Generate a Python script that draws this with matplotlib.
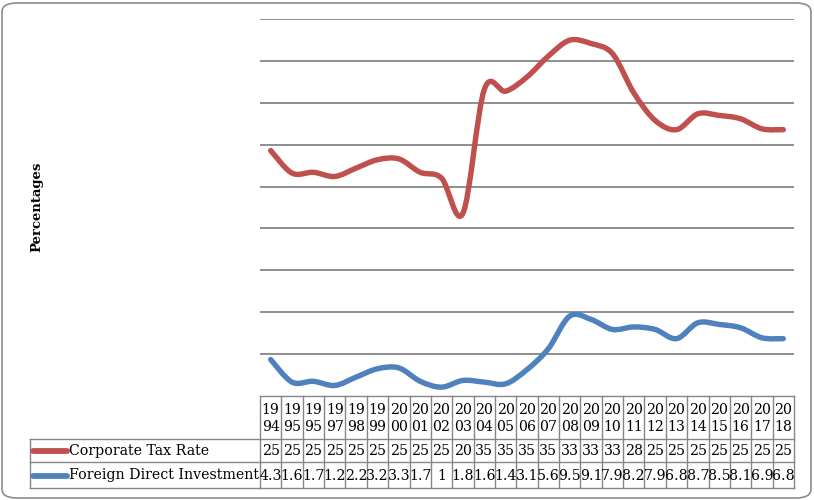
import matplotlib
matplotlib.use("Agg")
import matplotlib.pyplot as plt
import numpy as np
from matplotlib.path import Path
from matplotlib.patches import PathPatch, FancyBboxPatch
from matplotlib.transforms import blended_transform_factory

# year labels as printed in the source table (1996 column reads "1995")
year_labels = ["1994", "1995", "1995", "1997", "1998", "1999", "2000", "2001",
               "2002", "2003", "2004", "2005", "2006", "2007", "2008", "2009",
               "2010", "2011", "2012", "2013", "2014", "2015", "2016", "2017",
               "2018"]
tax_rate = [25, 25, 25, 25, 25, 25, 25, 25, 25, 20, 35, 35, 35, 35,
            33, 33, 33, 28, 25, 25, 25, 25, 25, 25, 25]
fdi = [4.3, 1.6, 1.7, 1.2, 2.2, 3.2, 3.3, 1.7, 1, 1.8, 1.6, 1.4, 3.1,
       5.6, 9.5, 9.1, 7.9, 8.2, 7.9, 6.8, 8.7, 8.5, 8.1, 6.9, 6.8]
series_names = ["Corporate Tax Rate", "Foreign Direct Investment"]
colors = ["#C0504D", "#4F81BD"]
y_ticks = [5, 10, 15, 20, 25, 30, 35, 40, 45]

W, H = 814, 500
GRID = "#868686"
SERIF = ["DejaVu Serif"]
FS = 10.2


def smooth_path(x, y):
    # Excel-style smoothed line: Catmull-Rom converted to cubic Bezier
    x = np.asarray(x, float)
    y = np.asarray(y, float)
    px = np.concatenate([[x[0]], x, [x[-1]]])
    py = np.concatenate([[y[0]], y, [y[-1]]])
    verts = [(x[0], y[0])]
    codes = [Path.MOVETO]
    for i in range(1, len(x)):
        p0 = np.array([px[i - 1], py[i - 1]])
        p1 = np.array([px[i], py[i]])
        p2 = np.array([px[i + 1], py[i + 1]])
        p3 = np.array([px[i + 2], py[i + 2]])
        c1 = p1 + (p2 - p0) / 6
        c2 = p2 - (p3 - p1) / 6
        verts += [tuple(c1), tuple(c2), tuple(p2)]
        codes += [Path.CURVE4] * 3
    return Path(verts, codes)


fig = plt.figure(figsize=(W / 100, H / 100), dpi=100)

# outer rounded frame
fig.patches.append(FancyBboxPatch((2 / W, 2 / H), 809 / W, 495 / H,
                                  boxstyle="round,pad=0,rounding_size=0.018",
                                  transform=fig.transFigure, fc="none",
                                  ec="#8c8c8c", lw=1.2, zorder=0))

x0, x1 = 260, 794
y_top, y_zero = 19.3, 395.5
ax = fig.add_axes([x0 / W, 1 - y_zero / H, (x1 - x0) / W, (y_zero - y_top) / H])
ax.set_xlim(-0.5, len(year_labels) - 0.5)
ax.set_ylim(0, 45)
ax.patch.set_alpha(0)
for s in ax.spines.values():
    s.set_visible(False)
ax.set_xticks([])
ax.set_yticks([])
for t in y_ticks:
    ax.axhline(t, color=GRID, lw=1.3, zorder=1)

# Excel stacked line: the red line sits on top of the blue one
xs = np.arange(len(year_labels))
stacked = [np.array(tax_rate, float) + np.array(fdi, float), np.array(fdi, float)]
for vals, c in zip(stacked, colors):
    ax.add_patch(PathPatch(smooth_path(xs, vals), fc="none", ec=c, lw=3.9,
                           capstyle="round", joinstyle="round", zorder=3))

fig.text(37 / W, 1 - 207 / H, "Percentages", rotation=90, ha="center",
         va="center", fontsize=9.5, fontweight="bold", family=SERIF)

# data table under the plot, sharing the x scale
r0, r1, r2, r3 = 396, 439, 462, 488
tab = fig.add_axes([x0 / W, 1 - r3 / H, (x1 - x0) / W, (r3 - r0) / H], sharex=ax)
tab.set_ylim(r3 - r0, 0)
tab.axis("off")
tab.patch.set_alpha(0)
ry = [0, r1 - r0, r2 - r0, r3 - r0]
lw_t = 1.0
n = len(year_labels)
for i in range(n + 1):
    tab.plot([i - 0.5, i - 0.5], [ry[0], ry[3]], color=GRID, lw=lw_t, clip_on=False)
for yy in ry:
    tab.plot([-0.5, n - 0.5], [yy, yy], color=GRID, lw=lw_t, clip_on=False)

bt = blended_transform_factory(tab.transAxes, tab.transData)
lx = (30 - x0) / (x1 - x0)
for yy in ry[1:]:
    tab.plot([lx, 0], [yy, yy], color=GRID, lw=lw_t, transform=bt, clip_on=False)
tab.plot([lx, lx], [ry[1], ry[3]], color=GRID, lw=lw_t, transform=bt, clip_on=False)

for i, s in enumerate(year_labels):
    tab.text(i, (ry[0] + ry[1]) / 2 + 1, s[:2] + "\n" + s[2:], ha="center",
             va="center", fontsize=FS, family=SERIF, linespacing=1.2)
for row, vals in enumerate([tax_rate, fdi]):
    yc = (ry[row + 1] + ry[row + 2]) / 2 + 0.5
    for i, v in enumerate(vals):
        tab.text(i, yc, f"{v:g}", ha="center", va="center", fontsize=FS,
                 family=SERIF)
    tab.plot([(33 - x0) / (x1 - x0), (67 - x0) / (x1 - x0)], [yc, yc],
             color=colors[row], lw=4.2, solid_capstyle="round",
             transform=bt, clip_on=False)
    tab.text((69 - x0) / (x1 - x0), yc, series_names[row], ha="left",
             va="center", fontsize=FS, family=SERIF, transform=bt)

fig.savefig("out.png", dpi=100)
